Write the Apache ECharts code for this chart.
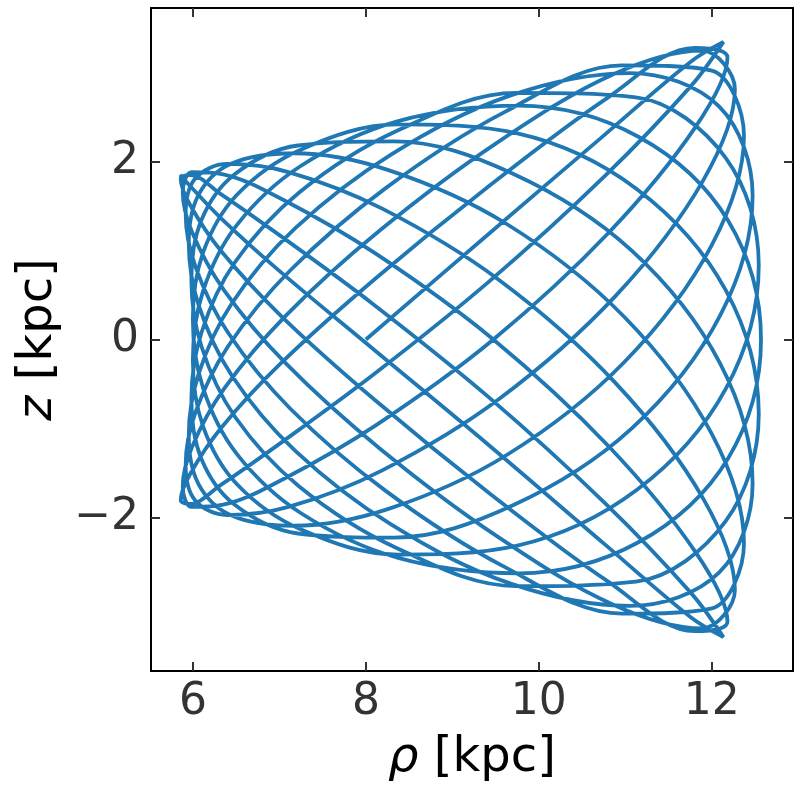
<!DOCTYPE html>
<html>
<head>
<meta charset="utf-8">
<script src="https://cdn.jsdelivr.net/npm/echarts@6/dist/echarts.min.js"></script>
<style>
html,body{margin:0;padding:0;background:#fff;}
#c{width:800px;height:800px;}
</style>
</head>
<body>
<div id="c"></div>
<script>
// orbit in the meridional plane (rho, z in kpc)
const rho = [
  8.000, 9.416, 10.757, 11.761, 12.135, 11.764, 10.762, 9.423,
  8.088, 7.020, 6.322, 5.963, 5.858, 5.965, 6.327, 7.029,
  8.104, 9.446, 10.794, 11.804, 12.182, 11.813, 10.810, 9.467,
  8.127, 7.053, 6.350, 5.987, 5.881, 5.991, 6.360, 7.071,
  8.156, 9.510, 10.868, 11.886, 12.268, 11.898, 10.891, 9.540,
  8.189, 7.104, 6.392, 6.023, 5.915, 6.028, 6.404, 7.126,
  8.225, 9.592, 10.962, 11.989, 12.373, 12.002, 10.987, 9.624,
  8.261, 7.162, 6.439, 6.062, 5.951, 6.066, 6.450, 7.183,
  8.295, 9.675, 11.055, 12.087, 12.473, 12.098, 11.075, 9.701,
  8.324, 7.213, 6.479, 6.095, 5.981, 6.098, 6.487, 7.228,
  8.348, 9.737, 11.123, 12.159, 12.544, 12.165, 11.135, 9.752,
  8.365, 7.245, 6.503, 6.114, 5.998, 6.115, 6.506, 7.250,
  8.374, 9.765, 11.152, 12.187, 12.570, 12.187, 11.152, 9.765,
  8.374, 7.250, 6.506, 6.115, 5.998, 6.114, 6.503, 7.245,
  8.365, 9.752, 11.135, 12.165, 12.544, 12.159, 11.123, 9.737,
  8.348, 7.228, 6.487, 6.098, 5.981, 6.095, 6.479, 7.213,
  8.324, 9.701, 11.075, 12.098, 12.473, 12.087, 11.055, 9.675,
  8.295, 7.183, 6.450, 6.066, 5.951, 6.062, 6.439, 7.162,
  8.261, 9.624, 10.987, 12.002, 12.373, 11.989, 10.962, 9.592,
  8.225, 7.126, 6.404, 6.028, 5.915, 6.023, 6.392, 7.104,
  8.189, 9.540, 10.891, 11.898, 12.268, 11.886, 10.868, 9.510,
  8.156, 7.071, 6.360, 5.991, 5.881, 5.987, 6.350, 7.053,
  8.127, 9.467, 10.810, 11.813, 12.182, 11.804, 10.794, 9.446,
  8.104, 7.029, 6.327, 5.965, 5.858, 5.963, 6.322, 7.020,
  8.088, 9.423, 10.762, 11.764, 12.135, 11.761, 10.757, 9.416,
  8.080, 7.012, 6.315, 5.956, 5.850
];
const z = [
  0.000, 1.181, 2.294, 3.120, 3.340, 2.849, 1.833, 0.649,
  -0.394, -1.157, -1.632, -1.846, -1.805, -1.512, -0.990, -0.255,
  0.679, 1.739, 2.712, 3.273, 3.167, 2.386, 1.200, -0.006,
  -0.955, -1.562, -1.854, -1.879, -1.655, -1.201, -0.552, 0.266,
  1.220, 2.204, 2.979, 3.242, 2.810, 1.780, 0.492, -0.668,
  -1.468, -1.879, -1.970, -1.803, -1.408, -0.819, -0.078, 0.777,
  1.696, 2.546, 3.076, 3.021, 2.286, 1.062, -0.255, -1.299,
  -1.901, -2.090, -1.971, -1.619, -1.075, -0.383, 0.406, 1.249,
  2.078, 2.740, 2.990, 2.614, 1.615, 0.270, -0.998, -1.861,
  -2.224, -2.177, -1.852, -1.335, -0.674, 0.079, 0.870, 1.649,
  2.336, 2.768, 2.718, 2.042, 0.836, -0.548, -1.687, -2.313,
  -2.413, -2.130, -1.618, -0.968, -0.230, 0.540, 1.283, 1.950,
  2.451, 2.624, 2.275, 1.337, 0.000, -1.337, -2.275, -2.624,
  -2.451, -1.950, -1.283, -0.540, 0.230, 0.968, 1.618, 2.130,
  2.413, 2.313, 1.687, 0.548, -0.836, -2.042, -2.718, -2.768,
  -2.336, -1.649, -0.870, -0.079, 0.674, 1.335, 1.852, 2.177,
  2.224, 1.861, 0.998, -0.270, -1.615, -2.614, -2.990, -2.740,
  -2.078, -1.249, -0.406, 0.383, 1.075, 1.619, 1.971, 2.090,
  1.901, 1.299, 0.255, -1.062, -2.286, -3.021, -3.076, -2.546,
  -1.696, -0.777, 0.078, 0.819, 1.408, 1.803, 1.970, 1.879,
  1.468, 0.668, -0.492, -1.780, -2.810, -3.242, -2.979, -2.204,
  -1.220, -0.266, 0.552, 1.201, 1.655, 1.879, 1.854, 1.562,
  0.955, 0.006, -1.200, -2.386, -3.167, -3.273, -2.712, -1.739,
  -0.679, 0.255, 0.990, 1.512, 1.805, 1.846, 1.632, 1.157,
  0.394, -0.649, -1.833, -2.849, -3.340, -3.120, -2.294, -1.181,
  -0.104, 0.759, 1.369, 1.734, 1.850
];
const xTicks = [6, 8, 10, 12];
const yTicks = [-2, 0, 2];
const xRange = [5.514, 12.94];
const yRange = [-3.72, 3.72];

const pts = rho.map((r, i) => [r, z[i]]);
const fmt = v => String(v).replace('-', '\u2212');
const FONT = 'DejaVu Sans';

function xAx(pos, main) {
  return {
    type: 'value', position: pos, min: xRange[0], max: xRange[1],
    axisLine: {show: true, onZero: false, lineStyle: {color: '#000', width: 2}},
    axisTick: {show: true, inside: true, length: 9, customValues: xTicks, lineStyle: {color: '#333', width: 2}},
    axisLabel: {show: main, customValues: xTicks, formatter: fmt, margin: 10, color: '#333', fontSize: 44, fontFamily: FONT},
    splitLine: {show: false},
    name: main ? '{i|\u03c1} [kpc]' : '', nameLocation: 'middle', nameGap: 64,
    nameTextStyle: {color: '#000', fontSize: 48, fontFamily: FONT,
      rich: {i: {fontStyle: 'italic', fontSize: 48, fontFamily: FONT, color: '#000'}}}
  };
}
function yAx(pos, main) {
  return {
    type: 'value', position: pos, min: yRange[0], max: yRange[1],
    axisLine: {show: true, onZero: false, lineStyle: {color: '#000', width: 2}},
    axisTick: {show: true, inside: true, length: 9, customValues: yTicks, lineStyle: {color: '#333', width: 2}},
    axisLabel: {show: main, customValues: yTicks, formatter: fmt, margin: 12, color: '#333', fontSize: 44, fontFamily: FONT},
    splitLine: {show: false},
    name: main ? '{i|z} [kpc]' : '', nameLocation: 'middle', nameGap: 88,
    nameTextStyle: {color: '#000', fontSize: 48, fontFamily: FONT,
      rich: {i: {fontStyle: 'italic', fontSize: 48, fontFamily: FONT, color: '#000'}}}
  };
}

const chart = echarts.init(document.getElementById('c'), null, {renderer: 'canvas'});
chart.setOption({
  animation: false,
  backgroundColor: '#fff',
  grid: {left: 151, right: 7, top: 8, bottom: 129, containLabel: false},
  xAxis: [xAx('bottom', true), xAx('top', false)],
  yAxis: [yAx('left', true), yAx('right', false)],
  series: [{
    type: 'line', xAxisIndex: 0, yAxisIndex: 0,
    data: pts, showSymbol: false, smooth: 0.35,
    lineStyle: {color: '#1f77b4', width: 3.8},
    clip: true
  }]
});
</script>
</body>
</html>
